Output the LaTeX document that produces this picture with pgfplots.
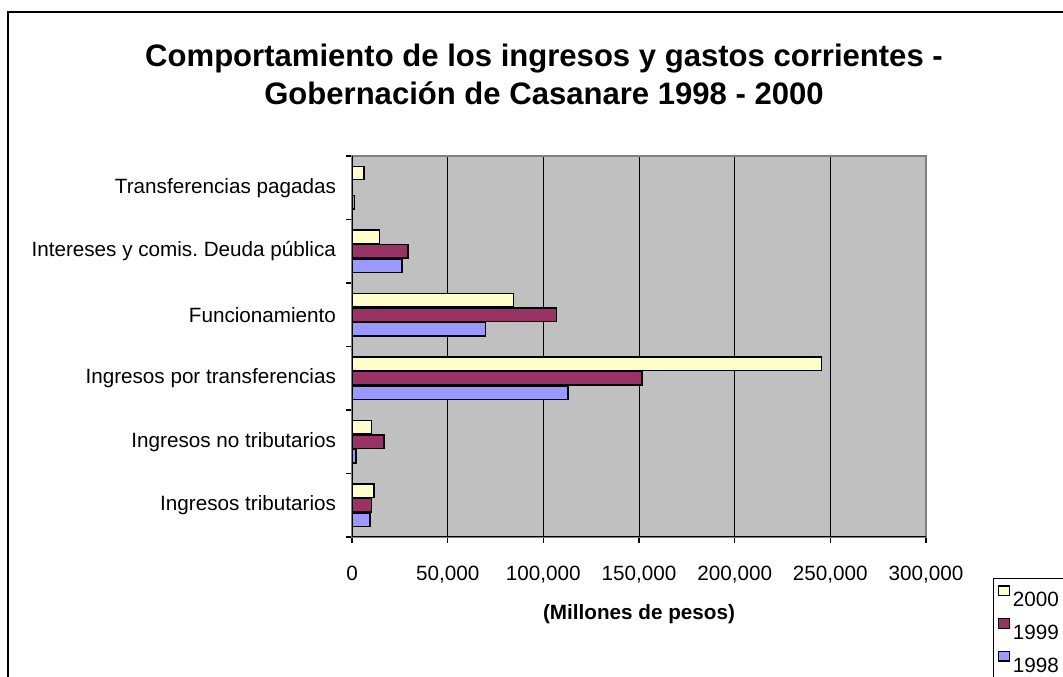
\documentclass[border=0pt]{standalone}
\usepackage{pgfplots}
\pgfplotsset{compat=1.18}
\usepackage{fontspec}
\setmainfont{Liberation Sans}
\definecolor{cA}{HTML}{FFFFCC}
\definecolor{cB}{HTML}{993366}
\definecolor{cC}{HTML}{9999FF}
\definecolor{bg}{HTML}{C0C0C0}
\definecolor{bd}{HTML}{808080}
\begin{document}
\frenchspacing
\begin{tikzpicture}
\path[use as bounding box] (0,0) rectangle (797.25pt,507.75pt);
\clip (0,0) rectangle (797.25pt,507.75pt);
\draw[line width=1.5pt] (6pt,498.75pt) rectangle (830pt,-30pt);
\begin{axis}[
  at={(264pt,105pt)}, anchor=south west,
  scale only axis, width=430.5pt, height=285.75pt,
  xbar, bar width=10pt,
  xmin=0, xmax=300000, ymin=-0.5, ymax=5.5,
  xtick={0,50000,100000,150000,200000,250000,300000},
  scaled x ticks=false,
  /pgf/number format/fixed,
  /pgf/number format/1000 sep={,},
  /pgf/number format/assume math mode=true,
  xtick pos=bottom, ytick pos=left,
  tick align=outside,
  major tick length=4.5pt, minor tick length=4.5pt,
  ytick={0,1,2,3,4,5},
  yticklabels={Ingresos tributarios, Ingresos no tributarios, Ingresos por transferencias, Funcionamiento, {Intereses y comis. Deuda pública}, Transferencias pagadas},
  minor ytick={-0.5,0.5,1.5,2.5,3.5,4.5,5.5},
  every major y tick/.append style={draw=none},
  every minor y tick/.append style={black, line width=1.1pt},
  every major x tick/.append style={black, line width=1.1pt},
  xmajorgrids, grid style={black, line width=0.75pt},
  axis background/.style={fill=bg},
  axis line style={draw=bd, line width=1.5pt},
  ticklabel style={font=\fontsize{15.5}{18}\selectfont},
  yticklabel style={anchor=east, xshift=-4pt},
  xticklabel style={anchor=base, yshift=-28pt},
  xlabel={(Millones de pesos)},
  xlabel style={at={(axis description cs:0.5,-0.2021)}, anchor=center, font=\bfseries\fontsize{15.5}{18}\selectfont},
  title={Comportamiento de los ingresos y gastos corrientes -\\Gobernación de Casanare 1998 - 2000},
  title style={at={(axis description cs:0.3345,1.1929)}, anchor=center, align=center, font=\bfseries\fontsize{23.3}{29}\selectfont},
  legend style={at={(axis description cs:1.1167,-0.1076)}, anchor=north west, draw=black, line width=1.1pt, fill=white,
    font=\fontsize{15.5}{18}\selectfont, inner xsep=3pt, inner ysep=5pt, row sep=5pt},
  legend cell align=left,
  legend image code/.code={\draw[#1, line width=0.9pt] (0pt,4pt) rectangle (8.5pt,11pt);},
]
\addplot[fill=cA, draw=black, line width=1.1pt, bar shift=11pt] coordinates {(11500,0) (10300,1) (245500,2) (84500,3) (14500,4) (6300,5)};
\addlegendentry{2000}
\addplot[fill=cB, draw=black, line width=1.1pt, bar shift=0pt] coordinates {(10300,0) (16700,1) (151500,2) (106800,3) (29300,4) (0,5)};
\addlegendentry{1999}
\addplot[fill=cC, draw=black, line width=1.1pt, bar shift=-11pt] coordinates {(9400,0) (2100,1) (112900,2) (69900,3) (26100,4) (1200,5)};
\addlegendentry{1998}
\draw[black, line width=1.5pt] (rel axis cs:0,1) -- (rel axis cs:0,0) -- (rel axis cs:1,0);
\end{axis}
\end{tikzpicture}
\end{document}
